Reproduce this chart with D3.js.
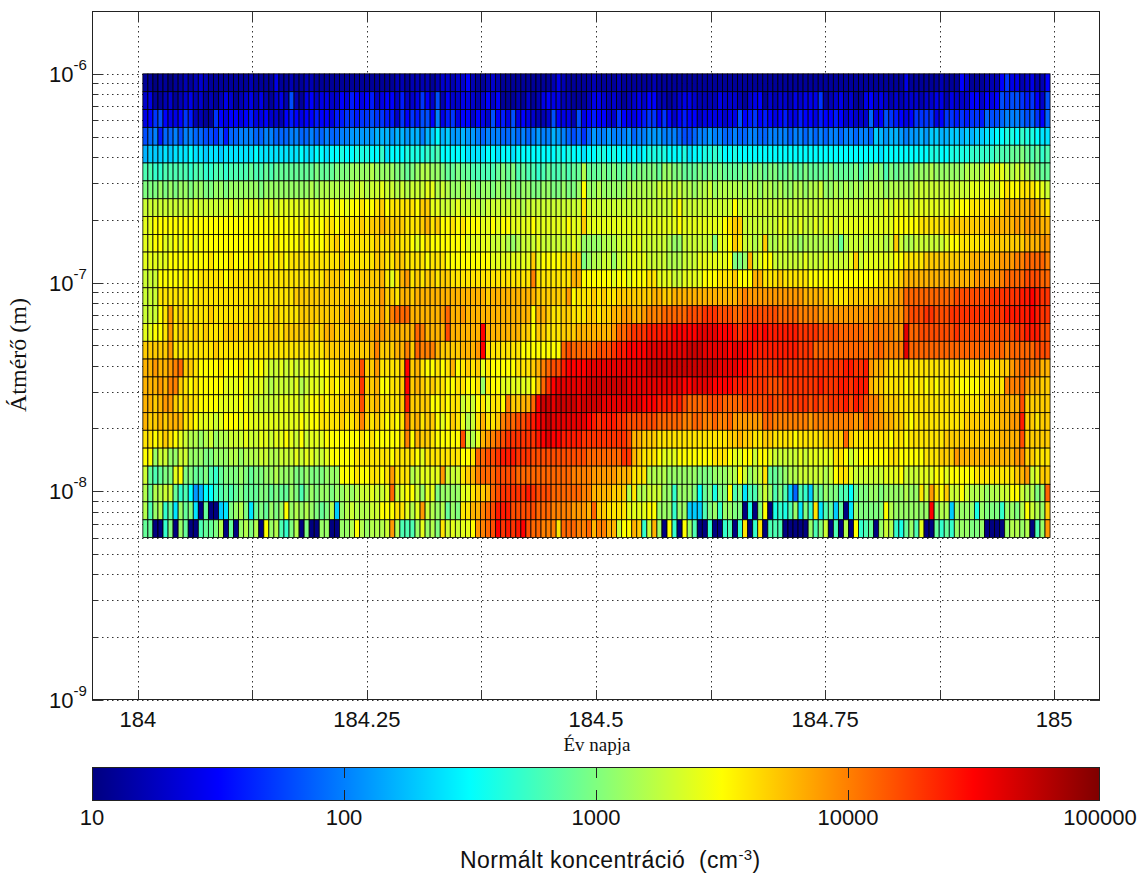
<!DOCTYPE html>
<html>
<head>
<meta charset="utf-8">
<script src="https://cdn.jsdelivr.net/npm/d3@7"></script>
<style>
  html, body { margin: 0; padding: 0; background: #fff; }
  text { font-family: "Liberation Sans", Arial, sans-serif; fill: #111; }
</style>
</head>
<body>
<div id="chart"></div>
<script>
// bin edges of the size channels, metres
const diameterEdges = [1000e-9, 821e-9, 675e-9, 554e-9, 455e-9, 374e-9, 307e-9, 252e-9, 207e-9, 170e-9,
  140e-9, 115e-9, 94.4e-9, 77.5e-9, 63.7e-9, 52.3e-9, 43e-9, 35.3e-9, 29e-9, 23.8e-9,
  19.6e-9, 16.1e-9, 13.2e-9, 10.8e-9, 8.9e-9, 7.3e-9, 6e-9];
const firstScanDay = 184.0055;
const scanLength = 0.0055;
const dayTicks = [184, 184.125, 184.25, 184.375, 184.5, 184.625, 184.75, 184.875, 185];
const dayLabels = {184: "184", 184.25: "184.25", 184.5: "184.5", 184.75: "184.75", 185: "185"};
const diameterDecades = [-9, -8, -7, -6];
const colorbarTicks = [10, 100, 1000, 10000, 100000];
const jetStops = [0, 0.125, 0.375, 0.625, 0.875, 1];
const jetColors = ["#000080", "#0000ff", "#00ffff", "#ffff00", "#ff0000", "#800000"];

// one line per size channel, top to bottom, 180 scans each: 10*log10(concentration)
const logConc = [
[11,11,10,11,11,10,11,11,12,11,12,13,12,11,11,11,11,11,11,11,11,12,11,11,11,11,14,11,11,12,11,11,12,12,11,11,11,11,11,11,11,11,11,11,11,11,11,11,11,11,12,12,11,12,12,12,12,11,12,13,
13,12,13,13,15,12,11,11,12,13,12,11,11,11,11,11,11,11,11,11,11,12,14,12,11,11,11,11,11,12,11,11,11,11,12,11,11,11,11,11,11,12,11,11,11,11,11,11,11,11,11,11,11,11,11,11,11,11,11,11,
11,11,11,11,11,11,11,11,11,11,11,11,11,11,11,11,11,11,11,11,11,11,11,11,11,11,11,11,11,11,11,14,11,11,11,11,11,11,12,11,11,11,15,13,11,11,11,12,12,12,15,17,14,14,12,13,14,12,12,15],
[13,14,11,11,12,13,11,12,13,14,12,13,11,12,11,12,14,13,11,12,13,14,12,14,12,11,13,14,12,18,12,11,14,15,13,14,14,13,13,15,14,16,15,14,15,16,13,14,15,15,13,16,13,13,14,17,15,13,18,12,
15,13,13,14,14,13,12,13,15,13,15,11,11,11,12,11,13,11,12,14,15,14,14,12,12,11,11,11,12,14,14,13,12,13,12,11,12,13,14,13,15,15,12,12,11,12,13,14,14,13,12,12,12,12,14,13,13,13,12,11,
13,14,15,11,13,12,13,13,12,14,13,14,14,14,17,11,12,13,14,12,13,11,11,14,15,13,14,13,12,13,12,13,13,13,12,13,13,14,14,12,14,13,13,13,15,15,13,15,14,15,18,17,18,18,17,16,17,15,13,18],
[14,15,17,18,15,14,14,15,17,16,12,12,11,11,17,15,14,15,15,14,15,16,14,14,15,13,13,12,15,16,15,14,15,15,16,15,15,14,16,16,17,17,16,17,17,18,17,17,16,16,13,17,15,17,16,18,18,15,20,14,
16,17,14,15,15,13,15,14,13,18,15,16,14,18,14,15,14,13,12,12,13,18,15,14,14,12,18,14,15,16,15,15,13,13,17,15,14,14,15,16,17,17,15,17,15,13,15,16,15,15,13,14,14,14,14,13,14,14,18,15,
16,17,15,16,15,14,15,16,14,14,16,15,15,14,16,15,15,16,15,13,14,13,13,13,19,14,15,18,17,16,15,14,15,17,17,17,17,14,15,17,17,16,17,16,17,17,16,19,18,18,19,20,20,20,19,18,19,17,15,19],
[18,19,20,16,19,19,20,18,20,20,19,19,18,18,17,19,16,19,19,20,20,20,19,19,20,20,19,19,19,20,20,19,19,20,19,19,20,19,19,20,20,21,21,21,21,21,22,22,22,21,22,22,21,22,22,20,22,23,25,22,
23,21,21,22,21,21,20,19,20,20,20,19,19,20,19,20,19,20,21,20,20,22,21,20,19,18,19,17,19,21,20,20,21,20,20,20,21,19,20,20,21,21,21,20,20,20,19,18,18,19,20,20,21,20,20,19,19,20,19,19,
20,20,19,19,20,20,20,20,19,20,20,19,20,19,20,19,20,20,19,20,20,19,20,20,19,23,22,21,22,22,21,20,21,21,22,21,23,23,22,22,23,23,22,23,22,23,23,24,24,25,25,26,26,25,27,26,26,25,24,24],
[22,23,23,23,24,23,24,24,24,25,24,24,23,24,24,23,24,24,24,24,24,24,25,24,24,24,24,24,24,24,24,25,24,24,25,25,24,25,25,26,25,25,26,26,26,25,25,27,24,25,25,25,26,26,26,26,27,27,28,25,
25,25,25,25,24,24,24,24,25,25,24,25,25,24,25,25,25,25,25,25,25,25,26,25,26,25,25,24,25,25,26,26,25,26,25,25,24,25,24,25,26,26,26,26,25,25,25,26,24,25,25,26,26,27,26,25,25,26,25,25,
25,25,25,25,25,25,25,25,25,25,25,25,25,25,25,25,25,25,25,25,25,25,25,25,25,25,24,25,25,25,25,25,25,25,25,25,26,26,25,25,26,26,26,26,27,27,27,27,27,28,28,28,29,29,30,29,28,29,27,28],
[28,28,27,27,28,28,28,28,28,27,28,28,27,27,28,28,27,28,28,28,28,29,28,28,29,28,29,29,29,29,29,29,29,29,30,29,29,29,30,30,30,31,31,31,31,32,31,31,31,31,30,30,29,30,31,32,32,31,31,30,
29,29,30,29,29,28,28,28,28,28,29,30,29,30,28,29,28,28,27,28,29,28,28,29,28,29,29,32,29,29,29,30,29,30,29,29,30,29,30,30,30,30,29,31,31,30,30,29,29,29,30,29,30,29,30,29,29,29,29,30,
29,30,30,29,30,30,29,29,30,29,29,30,29,29,29,29,30,29,29,29,29,30,28,29,30,31,30,28,30,29,30,30,30,31,31,31,32,31,31,31,31,31,31,32,32,32,32,33,33,34,34,33,32,33,33,32,31,30,29,29],
[30,30,30,31,30,31,30,31,31,30,31,31,30,30,31,31,30,31,31,31,31,31,31,30,31,31,31,31,31,31,31,31,31,32,31,32,32,32,32,32,32,32,33,33,32,33,33,34,33,33,32,33,32,33,33,33,34,34,32,33,
32,31,31,32,31,31,30,31,31,30,31,31,30,31,30,31,31,30,30,31,31,30,30,31,30,30,31,35,31,31,32,31,31,31,31,31,32,32,32,32,32,32,33,33,33,32,33,32,32,31,32,32,33,31,32,32,32,32,32,31,
32,32,31,32,32,31,32,31,31,32,32,31,32,32,33,31,31,32,31,32,31,32,31,32,32,32,32,31,32,32,32,32,32,33,33,33,33,33,33,33,33,33,33,33,34,34,34,34,33,33,35,36,35,35,36,36,36,35,34,33],
[33,33,33,33,33,33,33,33,33,33,34,33,33,33,33,33,33,34,33,33,34,34,34,33,34,34,33,34,34,34,34,34,34,34,34,34,34,35,34,35,34,35,35,36,35,35,36,37,35,36,36,36,36,36,35,37,37,34,34,33,
33,33,34,33,33,33,33,32,33,33,33,33,33,33,33,32,33,33,33,33,33,33,33,33,33,33,33,36,33,33,33,33,33,33,33,33,33,33,33,33,33,33,33,33,33,34,35,33,33,33,33,33,33,33,33,33,33,35,33,33,
33,33,33,33,33,33,33,33,33,33,33,33,33,33,33,33,33,33,33,33,33,33,33,33,33,33,33,34,33,34,34,34,33,34,34,34,34,34,34,34,34,35,35,35,36,36,36,36,36,36,37,38,38,38,38,38,39,38,37,36],
[34,34,35,35,35,35,35,35,35,35,35,35,35,35,35,35,35,35,35,35,35,35,35,35,35,35,35,35,35,35,35,35,36,35,35,35,36,36,35,36,36,36,36,37,36,37,37,38,37,37,37,37,36,36,36,37,38,36,37,35,
35,36,35,36,35,35,35,34,34,35,34,35,35,34,34,34,34,35,34,34,34,34,34,34,35,34,34,37,34,34,34,34,34,34,34,34,34,34,34,34,34,34,34,34,34,34,35,34,34,34,34,34,34,34,34,35,36,37,37,33,
33,33,33,33,33,33,34,34,33,33,34,33,33,34,33,34,34,33,34,34,34,34,34,34,34,34,34,34,34,35,35,35,35,35,36,36,36,36,36,36,37,37,37,37,37,37,37,37,38,38,38,38,38,39,38,39,39,39,38,38],
[34,34,35,35,34,34,35,34,35,35,34,35,35,35,35,35,35,35,35,35,35,35,35,35,35,35,36,35,35,35,35,36,35,35,35,35,36,36,37,35,36,36,36,36,36,36,37,36,36,37,36,36,36,35,34,35,36,35,35,35,
35,35,35,35,34,34,34,34,34,33,33,33,32,31,32,33,33,33,34,33,33,33,33,33,33,34,33,31,31,31,31,32,32,32,33,33,33,34,34,33,33,33,33,33,32,31,31,33,33,33,33,33,33,30,34,34,35,37,36,33,
33,32,33,37,32,32,33,33,32,32,31,32,32,32,32,32,32,32,29,32,33,33,33,32,33,33,33,32,33,37,33,32,32,33,33,33,33,33,33,34,35,35,36,36,36,36,36,36,37,37,37,37,37,37,37,38,38,38,39,39],
[34,34,34,34,34,35,35,35,35,35,35,35,35,36,35,35,35,36,35,35,35,36,35,36,35,36,35,36,35,36,36,36,36,36,36,36,36,36,36,37,36,36,36,36,36,36,37,37,36,36,37,37,36,36,36,36,35,36,36,36,
35,35,35,35,35,35,35,35,35,34,34,34,34,34,34,34,34,37,34,35,35,35,35,36,36,37,37,30,31,32,32,33,33,31,33,33,34,34,34,34,33,33,33,33,32,32,32,33,33,33,34,34,34,34,34,34,35,30,30,31,
38,33,34,35,35,33,33,33,33,33,33,34,33,33,33,34,33,33,33,33,34,37,33,34,34,34,34,34,34,35,35,36,36,36,36,37,37,37,37,37,37,37,37,37,38,38,38,38,38,38,39,39,39,40,40,41,41,41,41,40],
[33,33,33,35,35,35,35,35,36,35,35,36,36,36,36,36,35,36,36,36,36,36,36,36,36,36,36,36,36,36,36,36,36,36,36,36,37,37,37,37,36,36,37,37,37,37,37,38,36,34,36,38,39,36,37,36,37,37,36,37,
37,36,36,36,36,36,36,36,36,36,36,36,36,36,36,36,36,40,36,36,36,36,36,36,36,38,38,35,35,35,35,35,35,34,35,35,34,35,35,35,36,36,34,34,34,33,33,34,34,34,34,35,35,35,36,36,36,37,35,35,
35,38,38,36,36,36,37,36,36,36,36,36,35,35,35,35,35,35,35,35,35,35,35,35,35,35,36,36,36,36,37,38,38,38,38,38,38,38,38,38,38,38,38,38,38,39,39,39,39,39,40,41,41,41,41,42,42,42,41,41],
[33,33,33,36,36,36,36,36,36,35,36,36,36,36,36,36,36,36,36,36,36,36,36,36,36,36,36,36,36,36,37,37,37,37,37,37,37,37,37,37,37,37,37,37,37,37,37,39,37,37,36,38,38,37,38,38,38,38,38,38,
38,38,38,38,38,38,38,38,37,38,38,38,38,38,38,38,38,38,37,37,37,37,37,37,39,35,36,36,36,37,36,37,36,36,37,37,37,37,37,37,37,38,38,37,37,38,38,38,38,38,38,38,38,38,38,38,38,38,39,40,
39,39,39,39,39,39,39,39,39,39,39,38,38,38,38,37,37,36,36,36,37,37,37,37,37,37,37,37,38,38,39,41,41,41,41,41,41,41,41,41,41,42,42,42,42,42,42,42,43,43,43,43,43,43,44,44,45,44,43,43],
[33,33,33,35,36,39,36,37,36,36,36,36,36,37,36,36,36,36,36,36,36,36,37,36,36,36,37,36,36,36,36,37,37,37,37,37,37,37,37,37,38,38,37,37,37,37,37,39,37,40,41,41,41,38,38,38,38,38,38,39,
41,38,38,39,38,38,38,38,38,38,38,38,38,38,38,38,38,35,38,38,37,36,36,37,37,36,36,36,37,37,36,37,37,38,38,39,39,38,38,39,40,40,40,41,41,41,41,41,42,42,42,43,43,43,42,42,42,41,41,42,
42,42,42,42,42,42,41,41,41,41,40,40,40,40,39,39,39,39,39,39,39,39,39,39,39,40,39,39,39,39,39,41,42,42,42,43,43,42,42,42,43,43,43,43,43,43,43,43,43,43,43,44,44,44,44,44,45,44,43,43],
[34,34,35,35,36,39,36,37,37,36,37,36,37,36,36,36,37,37,37,36,37,37,37,36,36,37,37,36,37,37,37,37,37,37,36,37,38,38,37,37,37,38,38,38,38,38,39,39,38,38,38,38,38,38,41,40,38,38,38,38,
42,38,38,38,38,38,38,45,38,38,38,38,38,38,38,37,37,35,37,37,36,36,36,37,37,37,38,38,38,38,38,38,38,39,41,41,42,43,43,43,44,44,44,44,44,45,45,45,45,45,46,46,46,46,45,45,45,44,43,44,
44,45,44,45,44,44,44,44,44,44,43,43,43,43,42,42,42,42,41,41,41,41,41,40,40,41,40,40,40,39,39,46,41,41,42,42,42,42,42,42,42,43,42,42,42,42,42,42,42,42,42,42,42,43,43,44,44,44,42,42],
[37,37,37,37,37,39,36,36,36,36,36,36,36,36,37,36,36,36,36,36,36,36,36,36,36,36,36,36,36,36,36,36,36,36,36,36,37,37,37,37,37,37,37,37,37,38,40,37,37,37,38,38,40,37,41,40,40,40,38,37,
37,37,37,38,38,38,39,45,36,36,36,36,36,36,36,35,35,35,35,35,35,35,35,41,42,41,41,41,41,41,42,42,42,43,44,44,45,45,45,45,46,46,46,46,46,46,46,46,47,47,47,46,46,46,46,46,45,46,46,45,
45,44,44,44,44,44,44,44,44,44,43,43,43,41,41,41,41,41,41,41,41,41,41,41,40,41,41,40,40,40,40,46,41,41,41,41,41,41,41,41,41,41,41,41,41,41,41,41,41,41,41,40,41,41,41,41,41,42,42,42],
[38,38,39,38,38,39,40,41,37,37,36,35,35,35,35,36,35,35,35,36,35,34,35,35,34,33,33,34,33,34,33,34,34,34,34,35,35,36,36,37,37,38,38,42,37,37,39,36,36,36,36,37,45,37,38,36,35,35,36,35,
36,38,35,36,37,36,37,34,36,35,35,35,35,35,36,36,36,37,38,40,41,42,42,44,45,45,45,45,46,46,46,46,46,46,46,46,46,46,46,46,47,47,47,47,47,47,47,47,47,47,47,47,47,47,46,46,46,46,45,45,
44,43,43,43,43,43,44,43,43,43,43,43,43,43,43,43,43,43,43,44,44,43,43,44,39,38,38,37,36,36,36,36,36,36,36,36,36,36,36,36,36,36,36,36,36,36,37,36,36,36,37,37,39,40,41,41,40,40,38,38],
[38,38,38,39,38,40,40,37,36,35,36,35,35,35,35,35,34,34,34,35,34,34,34,34,33,32,33,33,33,33,34,32,33,34,34,34,35,36,35,36,36,37,37,43,37,37,38,35,35,36,36,37,45,37,38,37,36,37,36,36,
35,35,36,36,35,35,36,31,36,35,35,34,34,34,34,34,34,35,37,41,43,45,46,46,46,46,46,46,47,47,47,47,47,47,47,47,46,46,46,46,46,46,46,46,46,46,46,45,45,46,46,46,46,45,45,45,45,44,44,44,
43,43,43,43,42,42,42,43,43,43,43,43,43,43,44,43,43,43,44,44,43,44,44,44,38,37,37,36,36,36,36,35,36,35,36,35,36,35,36,36,36,35,35,35,35,35,36,36,36,36,36,40,40,40,41,39,38,38,37,37],
[38,38,37,38,39,39,37,36,37,36,36,35,35,35,35,34,34,34,34,35,34,34,33,33,33,33,33,34,34,34,34,33,34,35,35,36,35,36,36,37,37,37,37,42,37,37,38,36,36,36,36,37,44,37,37,37,37,35,35,36,
35,36,36,33,34,33,35,36,34,36,36,35,40,37,37,38,38,41,45,47,47,46,47,47,47,47,46,47,47,47,47,46,46,46,46,46,46,46,46,45,45,45,44,44,44,43,44,42,41,41,41,41,42,42,42,41,41,41,41,42,
42,42,42,42,43,42,42,42,43,42,43,43,42,43,42,42,43,43,43,44,42,44,43,42,40,40,38,37,37,37,36,36,36,36,36,36,36,36,36,36,36,36,36,36,36,36,36,37,37,37,38,38,38,38,42,37,37,37,37,37],
[38,37,37,38,37,38,38,38,36,36,35,34,34,34,33,34,35,35,35,34,35,34,34,34,34,34,34,34,34,34,34,35,34,35,35,36,36,36,36,37,36,36,37,40,37,36,37,36,35,36,35,36,41,37,38,36,37,37,35,34,
35,37,36,34,32,33,36,38,36,36,37,40,41,41,42,42,43,44,45,46,47,46,46,46,46,46,46,46,45,44,43,44,44,44,43,43,42,42,42,42,42,42,41,41,41,41,41,40,40,41,41,40,40,41,40,40,41,39,39,39,
39,39,39,41,41,40,40,40,40,40,40,40,39,40,40,40,40,40,40,40,40,39,39,41,40,39,39,38,38,37,37,36,35,36,36,36,36,36,36,36,36,36,36,37,37,37,37,37,37,37,38,38,39,39,44,37,37,36,37,37],
[36,36,35,36,37,36,35,34,33,32,32,31,32,33,31,32,32,33,33,33,34,33,33,34,34,33,34,34,35,34,33,35,33,34,34,34,35,35,35,35,35,35,35,36,35,36,35,35,35,35,35,36,40,35,38,37,37,36,35,35,
35,35,35,42,33,32,34,38,39,40,41,42,43,43,43,43,43,43,44,45,46,45,45,44,44,44,44,43,43,43,43,43,43,43,43,43,42,38,38,37,37,37,36,36,36,36,36,36,36,36,36,36,36,36,36,36,37,37,38,37,
37,36,36,37,37,36,36,36,36,35,36,36,36,36,36,37,37,37,37,41,37,36,36,36,36,36,36,36,35,36,36,35,36,36,36,36,36,36,36,37,37,37,37,37,37,37,37,37,37,37,38,38,38,38,42,37,37,37,37,37],
[35,35,31,33,33,31,31,33,33,31,31,31,30,30,31,31,31,32,32,31,32,32,32,33,33,32,32,33,33,33,34,33,34,34,33,33,34,35,35,35,35,35,36,36,36,36,36,36,36,35,36,36,36,36,35,34,36,36,36,36,
36,36,36,35,35,36,41,41,42,42,43,44,44,44,43,43,43,42,42,42,42,42,42,42,42,42,42,42,41,41,41,41,41,41,41,43,43,38,37,36,36,36,35,34,34,34,35,35,35,35,35,35,35,36,36,36,35,34,34,35,
35,33,35,35,34,33,33,33,33,33,34,33,34,34,34,34,34,36,36,35,33,34,35,35,35,35,35,35,36,36,35,35,35,35,35,36,36,36,37,37,37,39,38,38,38,38,38,38,38,38,38,38,38,39,40,37,37,36,36,36],
[33,29,28,29,30,30,34,35,30,30,29,29,30,28,27,29,30,30,30,31,30,29,30,30,31,31,32,31,31,31,30,30,31,30,30,30,31,31,31,35,35,35,36,35,35,36,36,35,36,39,36,36,36,32,33,34,34,34,34,39,
33,33,33,36,37,38,40,41,41,41,42,42,42,42,41,41,41,41,41,41,41,41,41,41,41,40,40,40,40,39,39,39,39,39,38,38,38,36,36,36,32,32,32,32,31,31,31,31,31,31,30,30,30,31,31,31,32,32,35,33,
31,32,33,36,29,29,30,31,32,32,33,33,33,33,33,32,33,35,36,36,34,33,33,33,33,33,33,34,34,34,35,33,33,33,34,34,34,35,35,34,35,35,35,35,35,36,36,36,36,36,36,36,36,37,38,39,33,34,37,37],
[32,29,32,32,33,33,29,27,28,25,21,22,25,25,27,28,29,28,29,30,29,29,29,30,30,29,30,29,29,31,30,28,30,31,30,31,31,30,31,31,32,31,32,33,33,34,33,33,34,41,33,34,35,35,33,31,34,34,30,31,
31,31,31,34,34,36,37,37,38,41,42,43,43,43,43,43,44,43,42,42,42,41,41,41,41,41,41,40,40,38,38,38,38,37,37,37,32,36,32,32,33,33,33,31,31,27,31,31,31,30,25,29,30,26,30,30,35,28,30,24,
28,28,31,33,31,28,30,28,23,19,28,27,23,30,29,31,30,30,28,28,25,29,30,30,31,31,30,31,31,31,31,32,31,31,36,33,39,36,35,37,33,33,35,33,32,32,32,31,32,32,33,33,35,35,33,32,32,30,31,41],
[32,28,31,32,27,29,24,31,29,30,24,10,29,10,10,23,24,30,31,32,30,24,29,30,29,31,30,31,35,31,32,31,32,31,30,29,30,32,23,31,32,33,32,32,32,33,33,35,35,35,36,36,34,32,34,39,33,32,31,32,
29,31,30,36,36,38,38,40,41,42,44,44,44,42,42,42,42,42,41,41,41,40,40,40,40,39,39,39,38,41,37,37,36,36,36,36,34,34,34,34,35,35,31,31,31,27,31,31,23,23,23,28,30,31,27,31,31,30,30,10,
26,10,30,35,10,26,27,26,28,31,24,30,27,36,24,28,29,23,29,10,24,31,30,30,30,30,30,35,32,31,31,31,31,31,31,31,45,31,32,32,23,31,31,31,31,26,31,30,30,30,27,31,31,30,32,35,33,32,31,37],
[29,29,10,10,27,30,10,31,29,10,10,28,29,29,30,32,10,29,10,31,32,30,32,10,35,31,32,28,27,30,32,10,30,10,10,31,31,10,10,31,31,32,35,32,31,32,32,32,33,39,32,28,28,28,31,34,31,32,30,36,
33,34,33,34,34,35,39,40,41,42,45,43,44,43,44,45,42,41,41,40,40,40,36,41,41,41,40,40,41,38,40,40,38,38,33,35,35,38,37,27,33,38,31,10,35,27,10,35,31,28,10,10,27,10,10,27,28,10,27,36,
10,27,36,10,28,28,28,10,10,10,10,10,31,28,30,33,10,28,10,32,10,35,27,28,29,10,31,33,32,27,26,29,31,28,34,10,10,29,27,29,27,31,31,31,30,30,31,10,10,10,10,31,32,32,31,32,10,28,31,39]
];

const width = 1146, height = 875;
const plot = {left: 92, right: 1100, top: 11, bottom: 700};
const bar = {top: 768, bottom: 800};

const x = d3.scaleLinear().domain([183.95, 185.05]).range([plot.left, plot.right]);
const y = d3.scaleLog().domain([1e-9, 2e-6]).range([plot.bottom, plot.top]);

const jet = d3.scaleLinear().domain(jetStops).range(jetColors).clamp(true);
const colorbarX = d3.scaleLog().domain([10, 100000]).range([plot.left, plot.right]);
const t = d3.scaleLinear().domain([10, 50]).range([0, 1]);

const svg = d3.select("#chart").append("svg")
    .attr("width", width)
    .attr("height", height)
    .style("display", "block");

// minor positions of the log axis: 2..9 in each decade, stop at the top of the frame
const minorTicks = [];
diameterDecades.forEach(e => d3.range(2, 10).forEach(m => {
    const v = m * Math.pow(10, e);
    if (v < 2e-6) minorTicks.push(v);
}));
const majorTicks = diameterDecades.map(e => Math.pow(10, e));

// grid
const grid = svg.append("g")
    .attr("stroke", "#333")
    .attr("stroke-width", 1)
    .attr("stroke-dasharray", "1.5,3.5");

grid.selectAll(".h")
    .data(majorTicks.concat(minorTicks))
    .enter().append("line")
    .attr("x1", plot.left)
    .attr("x2", plot.right)
    .attr("y1", d => Math.round(y(d)) + 0.5)
    .attr("y2", d => Math.round(y(d)) + 0.5);

grid.selectAll(".v")
    .data(dayTicks)
    .enter().append("line")
    .attr("x1", d => Math.round(x(d)) + 0.5)
    .attr("x2", d => Math.round(x(d)) + 0.5)
    .attr("y1", plot.top)
    .attr("y2", plot.bottom);

// the cells
const heat = svg.append("g")
    .attr("stroke", "#000")
    .attr("stroke-width", 0.8);

logConc.forEach((row, r) => {
    heat.selectAll(".r" + r)
        .data(row)
        .enter().append("rect")
        .attr("class", "r" + r)
        .attr("x", (d, i) => x(firstScanDay + i * scanLength))
        .attr("width", x(firstScanDay + scanLength) - x(firstScanDay))
        .attr("y", y(diameterEdges[r]))
        .attr("height", y(diameterEdges[r + 1]) - y(diameterEdges[r]))
        .attr("fill", d => jet(t(d)));
});

// frame and ticks
const ticks = svg.append("g").attr("stroke", "#333").attr("stroke-width", 1);

function tickLines(values, len) {
    values.forEach(v => {
        const py = Math.round(y(v)) + 0.5;
        ticks.append("line").attr("x1", plot.left).attr("x2", plot.left + len).attr("y1", py).attr("y2", py);
        ticks.append("line").attr("x1", plot.right - len).attr("x2", plot.right).attr("y1", py).attr("y2", py);
    });
}
tickLines(majorTicks, 10);
tickLines(minorTicks, 5);

dayTicks.forEach(d => {
    const px = Math.round(x(d)) + 0.5;
    ticks.append("line").attr("x1", px).attr("x2", px).attr("y1", plot.top).attr("y2", plot.top + 10);
    ticks.append("line").attr("x1", px).attr("x2", px).attr("y1", plot.bottom - 10).attr("y2", plot.bottom);
});

svg.append("rect")
    .attr("x", plot.left + 0.5)
    .attr("y", plot.top + 0.5)
    .attr("width", plot.right - plot.left - 1)
    .attr("height", plot.bottom - plot.top - 1)
    .attr("fill", "none")
    .attr("stroke", "#222");

// x tick labels
svg.selectAll(".xlab")
    .data(dayTicks.filter(d => dayLabels[d]))
    .enter().append("text")
    .attr("x", d => x(d))
    .attr("y", 727)
    .attr("text-anchor", "middle")
    .attr("font-size", 22)
    .text(d => dayLabels[d]);

// y tick labels
diameterDecades.forEach(e => {
    const lab = svg.append("text")
        .attr("x", 49)
        .attr("y", y(Math.pow(10, e)) + 8)
        .attr("font-size", 22);
    lab.append("tspan").text("10");
    lab.append("tspan").attr("dy", -12).attr("font-size", 15).text(e);
});

svg.append("text")
    .attr("x", 597)
    .attr("y", 751)
    .attr("text-anchor", "middle")
    .attr("font-size", 19)
    .style("font-family", '"Liberation Serif", serif')
    .text("Év napja");

svg.append("text")
    .attr("transform", "translate(26,355) rotate(-90)")
    .attr("text-anchor", "middle")
    .attr("font-size", 24)
    .style("font-family", '"Liberation Serif", serif')
    .text("Átmérő (m)");

// colorbar
const gradient = svg.append("defs").append("linearGradient").attr("id", "jetbar");
jetStops.forEach((s, i) => {
    gradient.append("stop").attr("offset", s).attr("stop-color", jetColors[i]);
});

svg.append("rect")
    .attr("x", plot.left + 0.5)
    .attr("y", bar.top - 0.5)
    .attr("width", plot.right - plot.left - 1)
    .attr("height", bar.bottom - bar.top + 1)
    .attr("fill", "url(#jetbar)")
    .attr("stroke", "#222");

colorbarTicks.slice(1, -1).forEach(v => {
    const px = Math.round(colorbarX(v)) + 0.5;
    svg.append("line").attr("x1", px).attr("x2", px).attr("y1", bar.top).attr("y2", bar.top + 10).attr("stroke", "#222");
    svg.append("line").attr("x1", px).attr("x2", px).attr("y1", bar.bottom - 10).attr("y2", bar.bottom).attr("stroke", "#222");
});

svg.selectAll(".barlab")
    .data(colorbarTicks)
    .enter().append("text")
    .attr("x", d => colorbarX(d))
    .attr("y", 825)
    .attr("text-anchor", "middle")
    .attr("font-size", 22)
    .text(d => d);

const barTitle = svg.append("text")
    .attr("x", 460)
    .attr("y", 868)
    .attr("font-size", 23)
    .attr("letter-spacing", 0.4)
    .attr("xml:space", "preserve");
barTitle.append("tspan").text("Normált koncentráció  (cm");
barTitle.append("tspan").attr("dy", -8).attr("font-size", 15).text("-3");
barTitle.append("tspan").attr("dy", 8).text(")");
</script>
</body>
</html>
